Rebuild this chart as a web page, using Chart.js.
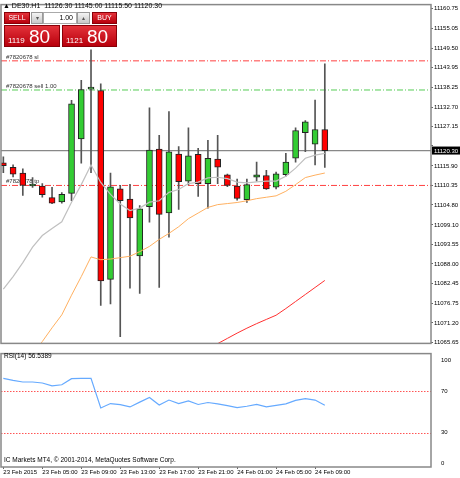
<!DOCTYPE html>
<html><head><meta charset="utf-8">
<script src="https://cdn.jsdelivr.net/npm/chart.js@4"></script>
<style>
body{margin:0;background:#fff;width:460px;height:478px;overflow:hidden;font-family:"Liberation Sans",Arial,sans-serif;position:relative}
canvas{position:absolute;left:0}
.ov{position:absolute;font-family:"Liberation Sans",Arial,sans-serif;}
.red{background:linear-gradient(#e3323a,#b8000c);border:1px solid #8a0008;color:#fff;box-sizing:border-box}
.btn{background:linear-gradient(#f4f4f4,#c8c8c8);border:1px solid #999;box-sizing:border-box;color:#555;font-size:6px;text-align:center;line-height:10px}
</style></head><body>
<canvas id="main" width="460" height="348" style="top:0;width:460px;height:348px"></canvas>
<canvas id="rsi" width="460" height="130" style="top:348px;width:460px;height:130px"></canvas>
<div class="ov" style="left:3px;top:2px;font-size:7px;color:#000;white-space:nowrap">▲ DE30.H1&nbsp; 11126.30 11145.00 11115.50 11120.30</div>
<div class="ov red" style="left:4px;top:12px;width:26px;height:12px;font-size:7px;text-align:center;line-height:10px">SELL</div>
<div class="ov btn" style="left:31px;top:12px;width:12px;height:12px">▾</div>
<div class="ov" style="left:43px;top:12px;width:34px;height:12px;border:1px solid #aaa;box-sizing:border-box;background:#fff;font-size:7px;text-align:right;padding-right:3px;line-height:10px">1.00</div>
<div class="ov btn" style="left:77px;top:12px;width:13px;height:12px">▴</div>
<div class="ov red" style="left:92px;top:12px;width:25px;height:12px;font-size:7px;text-align:center;line-height:10px">BUY</div>
<div class="ov red" style="left:4px;top:25px;width:56px;height:22px;white-space:nowrap"><span style="font-size:8px;position:absolute;left:3px;top:10px">1119</span><span style="font-size:19px;position:absolute;left:24px;top:0px">80</span></div>
<div class="ov red" style="left:62px;top:25px;width:55px;height:22px;white-space:nowrap"><span style="font-size:8px;position:absolute;left:3px;top:10px">1121</span><span style="font-size:19px;position:absolute;left:24px;top:0px">80</span></div>
<div class="ov" style="left:4px;top:352px;font-size:6.5px;color:#000">RSI(14) 56.5389</div>
<div class="ov" style="left:4px;top:456px;font-size:6.5px;color:#000;white-space:nowrap">IC Markets MT4, © 2001-2014, MetaQuotes Software Corp.</div>
<script>
const opens  = [11116.8,11115.5,11113.9,11110.2,11110.2,11106.9,11105.7,11108.1,11123.6,11137.8,11137.4,11083.6,11109.4,11106.5,11090.3,11104.3,11120.7,11102.5,11119.3,11111.6,11119.2,11110.9,11117.9,11113.4,11110.2,11106.3,11112.7,11113.2,11109.9,11113.4,11118.1,11125.4,11122.1,11126.3];
const highs  = [11118.5,11116.2,11115.1,11112.6,11110.9,11109.8,11108.3,11134.6,11140.3,11149.0,11139.3,11113.9,11110.4,11110.7,11104.6,11132.5,11124.6,11131.4,11121.4,11126.8,11120.9,11123.2,11124.6,11113.6,11112.2,11112.2,11117.0,11114.7,11114.2,11119.5,11126.8,11128.8,11134.7,11145.0];
const lows   = [11114.0,11112.8,11107.5,11109.8,11107.0,11105.2,11105.3,11106.0,11116.7,11114.0,11076.2,11076.6,11067.3,11081.1,11079.6,11099.9,11081.3,11095.6,11103.5,11110.5,11107.2,11103.9,11110.9,11110.0,11106.2,11105.5,11111.6,11109.2,11109.4,11113.0,11117.0,11120.0,11116.2,11115.5];
const closes = [11116.0,11113.6,11110.4,11110.6,11107.7,11105.3,11107.8,11133.6,11137.7,11138.3,11083.2,11110.0,11106.0,11101.1,11103.7,11120.4,11102.1,11119.9,11111.4,11118.8,11110.9,11118.1,11115.6,11110.4,11106.7,11110.6,11113.4,11109.4,11113.7,11117.0,11126.0,11128.5,11126.3,11120.3];
const maFast = [11080.8,11084.4,11088.4,11092.8,11096.1,11098.1,11100.0,11105.6,11110.6,11116.2,11111.2,11107.8,11105.1,11103.2,11103.9,11105.6,11106.0,11108.4,11109.2,11110.9,11111.3,11112.5,11112.7,11112.3,11111.3,11111.1,11111.4,11111.6,11111.6,11113.0,11115.3,11118.1,11119.0,11119.5];
const maMid  = [null,null,null,11062.0,11065.9,11069.8,11073.5,11079.1,11084.4,11090.0,11089.2,11089.4,11089.8,11090.2,11091.5,11093.0,11095.0,11096.7,11098.6,11100.9,11102.5,11104.1,11104.9,11105.2,11105.5,11106.0,11106.6,11107.0,11107.4,11108.7,11110.6,11112.6,11113.3,11113.9];
const maSlow = [null,null,null,null,null,null,null,null,null,null,null,null,null,null,null,null,null,null,null,null,null,11063.5,11065.3,11066.8,11068.3,11069.7,11071.0,11072.2,11073.4,11075.3,11077.3,11079.3,11081.3,11083.3];
const rsi    = [82.5,80.5,79.0,79.0,78.0,75.3,76.3,82.2,82.5,82.5,53.8,58.1,57.0,54.8,59.5,64.0,56.6,61.5,58.1,60.6,57.2,59.1,57.8,56.0,54.1,55.5,57.2,54.8,56.3,57.8,61.2,62.8,61.5,56.5];
const priceTicks = [11160.75,11155.05,11149.50,11143.95,11138.25,11132.70,11127.15,11121.60,11115.90,11110.35,11104.80,11099.10,11093.55,11088.00,11082.45,11076.75,11071.20,11065.65];
const rsiTicks = [100,70,30,0];
const timeTickIdx = [0,4,8,12,16,20,24,28,32];
const timeLabels = ["23 Feb 2015","23 Feb 05:00","23 Feb 09:00","23 Feb 13:00","23 Feb 17:00","23 Feb 21:00","24 Feb 01:00","24 Feb 05:00","24 Feb 09:00"];
const orderLines = [
  {price:11145.85, color:'#ff4040', label:'#7820678 sl'},
  {price:11137.55, color:'#55cc55', label:'#7820678 sell 1.00'},
  {price:11110.36, color:'#ff4040', label:'#7820678 tp'}
];
const bid = 11120.30;

const XMIN=-0.24, XMAX=43.9;
const FONT={family:'"Liberation Sans", Arial, sans-serif', size:6};
const idx = opens.map((_,i)=>i);
const pts = a => a.map((v,i)=>({x:i,y:v}));

const framePlugin = {id:'frame', afterDraw(c){
  const {ctx,chartArea:a}=c; ctx.save(); ctx.strokeStyle='#888'; ctx.lineWidth=1.5;
  ctx.strokeRect(a.left,a.top,a.right-a.left,a.bottom-a.top); ctx.restore();}};

const orderPlugin = {id:'orders', beforeDatasetsDraw(c){
  const {ctx,chartArea:a,scales:{y}}=c; ctx.save();
  let yb=y.getPixelForValue(bid); ctx.strokeStyle='#888'; ctx.lineWidth=1.2; ctx.setLineDash([]);
  ctx.beginPath(); ctx.moveTo(a.left,yb); ctx.lineTo(a.right,yb); ctx.stroke();
  orderLines.forEach(o=>{const py=y.getPixelForValue(o.price);
    ctx.strokeStyle=o.color; ctx.lineWidth=1; ctx.setLineDash([6,2,1,2]);
    ctx.beginPath(); ctx.moveTo(a.left,py); ctx.lineTo(a.right,py); ctx.stroke();
    ctx.fillStyle='#333'; ctx.font='6px "Liberation Sans", Arial'; ctx.textBaseline='bottom';
    ctx.fillText(o.label,a.left+5,py-1);});
  ctx.restore();},
  afterDraw(c){const {ctx,chartArea:a,scales:{y}}=c; const yb=y.getPixelForValue(bid);
    ctx.save(); ctx.fillStyle='#000'; ctx.fillRect(a.right+1,yb-4,28,8);
    ctx.fillStyle='#fff'; ctx.font='6px "Liberation Sans", Arial'; ctx.textBaseline='middle';
    ctx.fillText(bid.toFixed(2),a.right+3,yb+0.5); ctx.restore();}};

new Chart(document.getElementById('main'),{
  data:{datasets:[
    {type:'line',data:pts(maFast),borderColor:'#c0c0c0',borderWidth:1.2,pointRadius:0,tension:0,order:0},
    {type:'line',data:pts(maMid),borderColor:'#ffb060',borderWidth:1,pointRadius:0,tension:0,order:0},
    {type:'line',data:pts(maSlow),borderColor:'#ff3030',borderWidth:1,pointRadius:0,tension:0,order:0},
    {type:'bar',data:idx.map(i=>({x:i,y:[lows[i],highs[i]]})),backgroundColor:'#555',barThickness:1,grouped:false,order:3},
    {type:'bar',data:idx.map(i=>({x:i,y:[opens[i],closes[i]]})),
      backgroundColor:idx.map(i=>closes[i]>=opens[i]?'#33cc33':'#ff0000'),
      borderColor:'#222',borderWidth:1,borderSkipped:false,barThickness:6,grouped:false,order:1,minBarLength:2}
  ]},
  options:{responsive:false,animation:false,devicePixelRatio:1,
    layout:{padding:{left:1,top:2,right:0,bottom:1}},
    plugins:{legend:{display:false},tooltip:{enabled:false}},
    scales:{
      x:{type:'linear',min:XMIN,max:XMAX,offset:false,display:false},
      y:{position:'right',min:11065.37,max:11161.87,
        afterBuildTicks:s=>{s.ticks=priceTicks.map(v=>({value:v}));},
        afterFit:s=>{s.width=29;},
        grid:{display:true,drawOnChartArea:false,tickLength:2,color:'#666'},border:{display:false},
        ticks:{font:FONT,color:'#000',padding:1,callback:(v)=>v===11121.60?'':Number(v).toFixed(2)}}
    }},
  plugins:[orderPlugin,framePlugin]
});

const rsiPlugin={id:'rsilev',beforeDatasetsDraw(c){const {ctx,chartArea:a,scales:{y}}=c;ctx.save();
  ctx.strokeStyle='#ff5555';ctx.lineWidth=1;ctx.setLineDash([1.5,1.5]);
  [70,30].forEach(v=>{const py=Math.round(y.getPixelForValue(v))+0.5;ctx.beginPath();ctx.moveTo(a.left,py);ctx.lineTo(a.right,py);ctx.stroke();});
  ctx.restore();}};

new Chart(document.getElementById('rsi'),{
  type:'line',
  data:{datasets:[{data:pts(rsi),borderColor:'#66aaff',borderWidth:1.2,pointRadius:0,tension:0}]},
  options:{responsive:false,animation:false,devicePixelRatio:1,
    layout:{padding:{left:1,top:0,right:0,bottom:0}},
    plugins:{legend:{display:false},tooltip:{enabled:false}},
    scales:{
      x:{type:'linear',min:XMIN,max:XMAX,offset:false,
        afterBuildTicks:s=>{s.ticks=timeTickIdx.map(v=>({value:v}));},
        afterFit:s=>{s.height=11;},
        grid:{display:true,drawOnChartArea:false,tickLength:2,color:'#666'},border:{display:false},
        ticks:{font:FONT,color:'#000',align:'start',padding:0,maxRotation:0,autoSkip:false,
          callback:v=>timeLabels[timeTickIdx.indexOf(v)]}},
      y:{position:'right',min:-3.4,max:106.5,
        afterBuildTicks:s=>{s.ticks=rsiTicks.map(v=>({value:v}));},
        afterFit:s=>{s.width=29;},
        grid:{display:false},border:{display:false},
        ticks:{font:FONT,color:'#000',padding:2}}
    }},
  plugins:[rsiPlugin,framePlugin]
});
</script></body></html>
